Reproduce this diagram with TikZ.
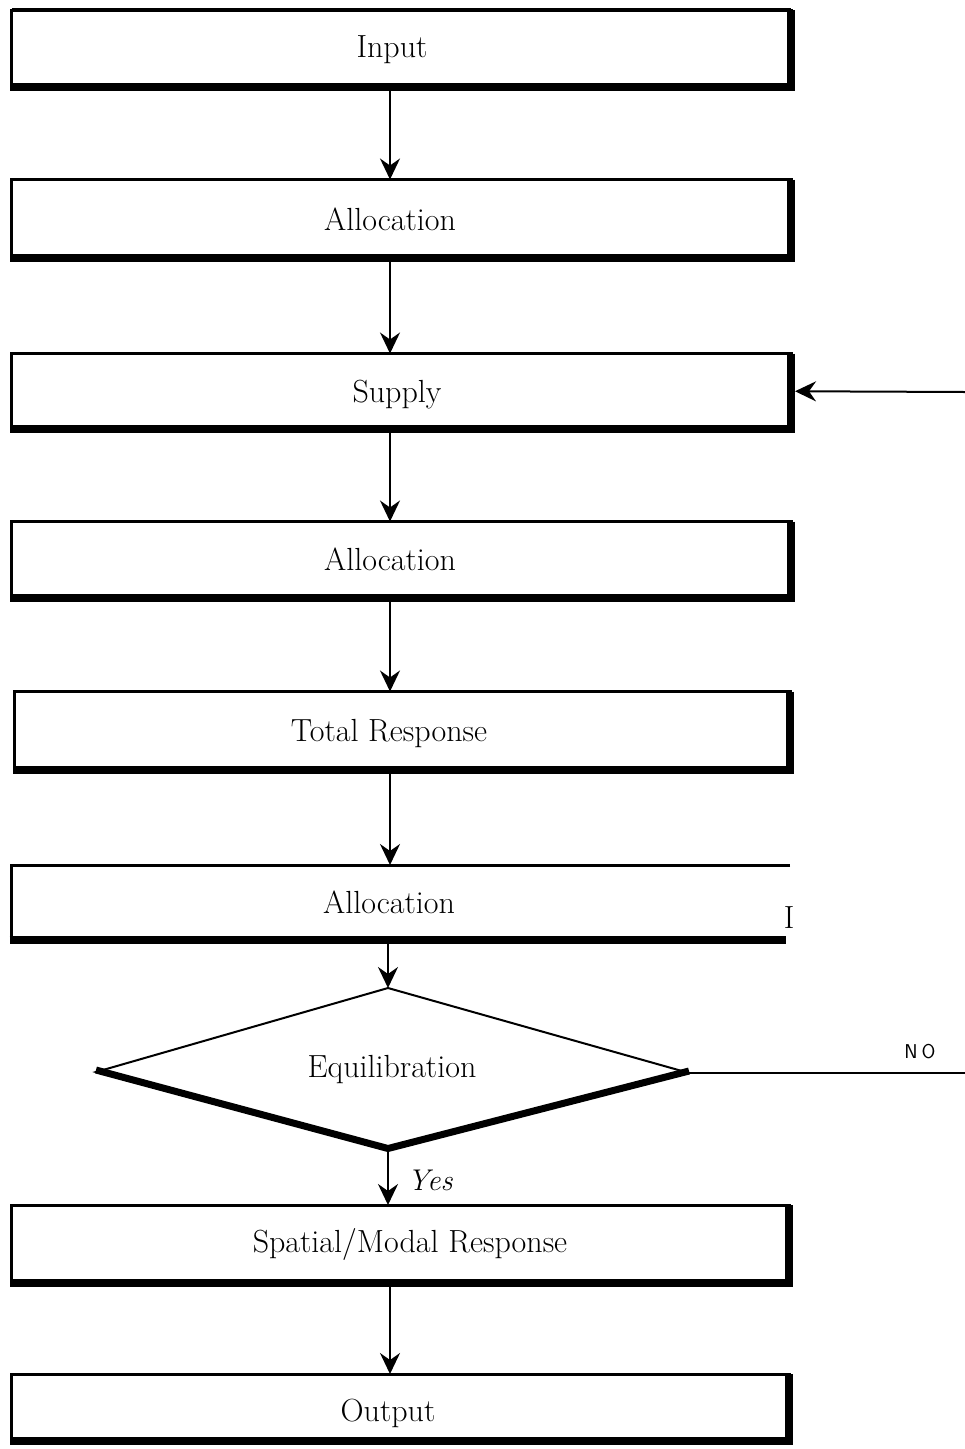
\documentclass[tikz,border=0pt]{standalone}
\usetikzlibrary{arrows.meta}
\tikzset{
  box/.style={draw=none, inner sep=0pt, outer sep=0pt},
  lbl/.style={font=\fontsize{32}{38}\selectfont, inner sep=0pt, text height=21.5pt, text depth=0pt},
  thinedge/.style={line width=3pt, line cap=rect, line join=miter},
  thickedge/.style={line width=8pt, line cap=butt, line join=miter},
  arr/.style={line width=2pt, -{Stealth[length=21pt,width=20pt,inset=7pt]}},
}
\newcommand\boxedges[1]{%
  \draw[thinedge] (#1.south west) -- (#1.north west) -- (#1.north east);
  \draw[thickedge] (#1.north east) -- (#1.south east) -- ([xshift=-1.5pt]#1.south west);}
\begin{document}
\begin{tikzpicture}[x=1pt,y=-1pt]
\useasboundingbox[fill=white] (0,0) rectangle (965,1449);
% boxes
\node[box, minimum width=779.5pt, minimum height=77pt]   (b1) at (401.25,48.5) {};
\node[box, minimum width=779.5pt, minimum height=78.5pt] (b2) at (401.25,218.75) {};
\node[box, minimum width=779.5pt, minimum height=75.5pt] (b3) at (401.25,391.25) {};
\node[box, minimum width=779.5pt, minimum height=76.5pt] (b4) at (401.25,559.75) {};
\node[box, minimum width=776pt,   minimum height=78.5pt] (b5) at (402,730.75) {};
\node[box, minimum width=779pt,   minimum height=74.5pt] (b6) at (400.5,902.25) {};
\node[box, minimum width=777.5pt, minimum height=77.5pt] (b8) at (400.25,1243.75) {};
\node[box, minimum width=777.5pt, minimum height=67pt]   (b9) at (400.25,1407.5) {};
\boxedges{b1}
\draw[line width=4.5pt] (b1.north west) -- (b1.north east);
\boxedges{b2}
\boxedges{b3}
\boxedges{b4}
\boxedges{b5}
\boxedges{b8}
\boxedges{b9}
% open box (no right edge)
\draw[thinedge, line cap=butt] (b6.north east) -- (b6.north west) -- (b6.south west);
\draw[thickedge] ([xshift=-1.5pt]b6.south west) -- ([xshift=-4pt]b6.south east);
% labels
\node[lbl] (t1) at (392,47) {Input};
\node[lbl] (t2) at (390,220) {Allocation};
\node[lbl] (t3) at (397,392) {Supply};
\node[lbl] (t4) at (390,560) {Allocation};
\node[lbl] (t5) at (389,731) {Total Response};
\node[lbl] (t6) at (389,903) {Allocation};
\node[lbl] (tI) at (789,918) {I};
\node[lbl] (t8) at (410,1242) {Spatial/Modal Response};
\node[lbl] (t9) at (388,1411) {Output};
% diamond
\coordinate (dt) at (388,988);
\coordinate (dl) at (96,1072);
\coordinate (dr) at (689,1073);
\coordinate (db) at (388,1150);
\draw[line width=2pt, line join=miter] (dl) -- (dt) -- (dr) -- (db) -- cycle;
\draw[line width=7pt, line join=miter] ([yshift=2pt]dl) -- ([yshift=1.5pt]db) -- ([yshift=2pt]dr);
\node[lbl] (te) at (392,1067) {Equilibration};
% arrows
\coordinate (ax) at (390,0);
\draw[arr] (b1.south -| ax) -- (b2.north -| ax);
\draw[arr] (b2.south -| ax) -- (b3.north -| ax);
\draw[arr] (b3.south -| ax) -- (b4.north -| ax);
\draw[arr] (b4.south -| ax) -- (b5.north -| ax);
\draw[arr] (b5.south -| ax) -- (b6.north -| ax);
\draw[arr] (b6.south -| dt) -- (dt);
\draw[arr] (db) -- (b8.north -| db);
\draw[arr] (b8.south -| ax) -- (b9.north -| ax);
% feedback in and NO branch
\coordinate (fin) at (965,392);
\draw[arr] (fin) -- ([xshift=4pt]b3.east);
\coordinate (noend) at (965,1073);
\draw[line width=1.5pt] (dr) -- (noend);
\node[font=\sffamily\fontsize{20}{24}\selectfont, inner sep=0pt] (tno) at (920,1052) {N\kern4pt O};
\node[font=\itshape\fontsize{30}{35}\selectfont, inner sep=0pt, text height=20.5pt, text depth=0pt] (tyes) at (430,1180) {Yes};
\end{tikzpicture}
\end{document}
